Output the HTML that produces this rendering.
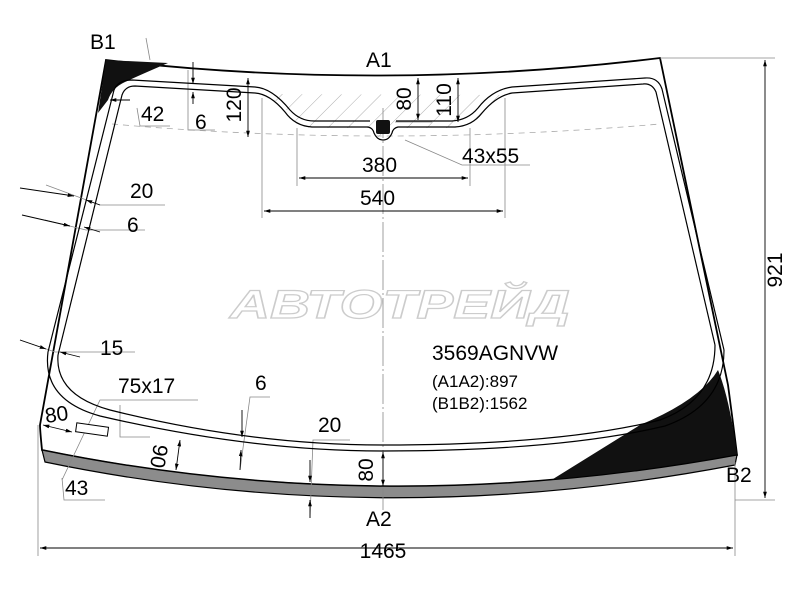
<!DOCTYPE html>
<html><head><meta charset="utf-8"><style>
html,body{margin:0;padding:0;background:#fff;}
svg{display:block;font-family:"Liberation Sans",Arial,sans-serif;}
</style></head><body>
<svg width="800" height="600" viewBox="0 0 800 600" xmlns="http://www.w3.org/2000/svg">
<defs>
<marker id="a" viewBox="0 0 10 10" refX="10" refY="5" markerWidth="7" markerHeight="7" orient="auto-start-reverse"><path d="M0,2 L10,5 L0,8 z" fill="#000"/></marker>
<pattern id="h" width="14" height="14" patternUnits="userSpaceOnUse" patternTransform="rotate(45)"><line x1="0" y1="0" x2="0" y2="14" stroke="#999" stroke-width="0.8"/></pattern>
</defs>

<path d="M106,60 Q383,92 660,58 L728,385 Q734,430 737,455 Q383,520 42,450 Q40,430 40,425 Z" fill="#fff" stroke="#000" stroke-width="1.8"/>
<path d="M106,60 L168,63 Q140,75 125,82 Q112,88 108,100 L98,113 Z" fill="#111"/>
<path d="M545,484 L640,425 Q700,400 718,370 Q730,400 737,455 Q650,472 545,484 Z" fill="#111"/>
<path d="M42,450 Q383,520 737,455 L735,465 Q383,532 45,462 Z" fill="#8c8c8c" stroke="#000" stroke-width="1.2"/>

<text x="400" y="318" font-size="40" font-weight="bold" font-style="italic" text-anchor="middle" fill="#fff" stroke="#ccc" stroke-width="1.2" textLength="340" lengthAdjust="spacingAndGlyphs">АВТОТРЕЙД</text>

<path d="M262,94 Q280,100 295,120 Q300,128 315,128 L370,128 Q376,138 383,138 Q390,138 396,128 L455,128 Q470,128 480,115 Q495,98 505,95 Z" fill="url(#h)"/>

<g stroke="#888" stroke-width="0.8" fill="none">
<line x1="660" y1="58" x2="775" y2="58"/>
<line x1="735" y1="500" x2="775" y2="500"/>
<line x1="38" y1="425" x2="38" y2="556"/>
<line x1="735" y1="462" x2="735" y2="556"/>
<line x1="262" y1="98" x2="262" y2="218"/>
<line x1="505" y1="98" x2="505" y2="218"/>
<line x1="297" y1="128" x2="297" y2="186"/>
<line x1="470" y1="128" x2="470" y2="186"/>
<line x1="383" y1="108" x2="383" y2="510" stroke-dasharray="30,3,2,3"/>
<path d="M112,124 Q383,148 660,124" stroke="#aaa" stroke-dasharray="6,5"/>
<polyline points="46,185 100,205 165,205"/>
<polyline points="45,220 86,230 145,230"/>
<polyline points="20,340 55,352 135,352"/>
<polyline points="62,480 100,400 198,400"/>
<polyline points="150,437 120,437 120,405"/>
<polyline points="62,478 64,500 105,500"/>
<polyline points="240,470 250,397 270,397"/>
<polyline points="310,518 313,440 350,440"/>
<polyline points="405,140 462,165 530,165"/>
<polyline points="137,108 140,126 170,126"/>
<polyline points="188,70 188,130 215,130"/>
<polyline points="395,122 432,122"/>
<line x1="146" y1="38" x2="150" y2="60"/>
</g>

<g fill="none" stroke="#000" stroke-width="1.2">
<path d="M58,355 L122,95 Q125,86 135,86 L255,93 Q270,94 285,112 Q295,126 312,127 L368,127 Q373,128 374,133 Q377,140 383,140 Q389,140 392,133 Q393,128 398,127 L455,127 Q472,126 482,113 Q496,96 512,93 L643,84 Q652,83 656,92 L715,345"/>
<path d="M48,352 L114,90 Q118,80 132,80 L255,87 Q272,88 290,110 Q300,121 314,121 L370,121"/>
<path d="M396,121 L452,121 Q468,120 478,108 Q492,90 512,87 L645,78 Q658,77 662,89 L724,350"/>
<path d="M58,355 Q55,395 110,410 Q250,445 383,445 Q560,445 660,420 Q715,400 715,345"/>
<path d="M48,352 Q42,400 100,416 Q250,451 383,451 Q560,451 665,426 Q724,405 724,350"/>
</g>

<rect x="76" y="425" width="32" height="9" fill="#fff" stroke="#000" stroke-width="1" transform="rotate(8 92 430)"/>
<rect x="376" y="120" width="14" height="14" rx="2" fill="#111"/>

<g stroke="#000" stroke-width="0.9" fill="none">
<line x1="40" y1="548" x2="733" y2="548" marker-start="url(#a)" marker-end="url(#a)"/>
<line x1="765" y1="60" x2="765" y2="498" marker-start="url(#a)" marker-end="url(#a)"/>
<line x1="264" y1="211" x2="503" y2="211" marker-start="url(#a)" marker-end="url(#a)"/>
<line x1="299" y1="178" x2="468" y2="178" marker-start="url(#a)" marker-end="url(#a)"/>
<line x1="248" y1="78" x2="248" y2="137" marker-start="url(#a)" marker-end="url(#a)"/>
<line x1="418" y1="78" x2="418" y2="120" marker-start="url(#a)" marker-end="url(#a)"/>
<line x1="458" y1="78" x2="458" y2="122" marker-start="url(#a)" marker-end="url(#a)"/>
<line x1="383" y1="452" x2="383" y2="486" marker-start="url(#a)" marker-end="url(#a)"/>
<line x1="180" y1="440" x2="176" y2="470" marker-start="url(#a)" marker-end="url(#a)"/>
<line x1="43" y1="425" x2="72" y2="432" marker-start="url(#a)" marker-end="url(#a)"/>
<line x1="193" y1="62" x2="193" y2="84" marker-end="url(#a)"/>
<line x1="193" y1="104" x2="193" y2="92" marker-end="url(#a)"/>
<line x1="242" y1="410" x2="242" y2="437" marker-end="url(#a)"/>
<line x1="240" y1="470" x2="241" y2="450" marker-end="url(#a)"/>
<line x1="310" y1="460" x2="310" y2="482" marker-end="url(#a)"/>
<line x1="310" y1="518" x2="310" y2="500" marker-end="url(#a)"/>
<line x1="20" y1="188" x2="74" y2="196" marker-end="url(#a)"/>
<line x1="100" y1="205" x2="86" y2="200" marker-end="url(#a)"/>
<line x1="22" y1="215" x2="70" y2="226" marker-end="url(#a)"/>
<line x1="100" y1="232" x2="84" y2="227" marker-end="url(#a)"/>
<line x1="20" y1="340" x2="46" y2="349" marker-end="url(#a)"/>
<line x1="80" y1="357" x2="60" y2="352" marker-end="url(#a)"/>
<line x1="130" y1="100" x2="110" y2="100" marker-end="url(#a)"/>
</g>

<g fill="#000" font-size="21">
<text x="90" y="49">B1</text>
<text x="366" y="67">A1</text>
<text x="726" y="482">B2</text>
<text x="366" y="526">A2</text>
<text x="383" y="558" text-anchor="middle">1465</text>
<text x="362" y="172">380</text>
<text x="360" y="205">540</text>
<text x="462" y="163">43x55</text>
<text x="141" y="121">42</text>
<text x="195" y="129">6</text>
<text x="130" y="198">20</text>
<text x="127" y="232">6</text>
<text x="100" y="355">15</text>
<text x="118" y="393">75x17</text>
<text x="255" y="390">6</text>
<text x="318" y="432">20</text>
<text x="45" y="421" transform="rotate(-8 60 415)">80</text>
<text x="65" y="495">43</text>
<text x="432" y="360">3569AGNVW</text>
<text x="432" y="387" font-size="17">(A1A2):897</text>
<text x="432" y="409" font-size="17">(B1B2):1562</text>
<text transform="translate(782,270) rotate(-90)" text-anchor="middle">921</text>
<text transform="translate(241,105) rotate(-90)" text-anchor="middle">120</text>
<text transform="translate(411,99) rotate(-90)" text-anchor="middle">80</text>
<text transform="translate(451,100) rotate(-90)" text-anchor="middle">110</text>
<text transform="translate(373,470) rotate(-90)" text-anchor="middle">80</text>
<text transform="translate(152,455) rotate(100)" text-anchor="middle">90</text>
</g>
</svg>
</body></html>
